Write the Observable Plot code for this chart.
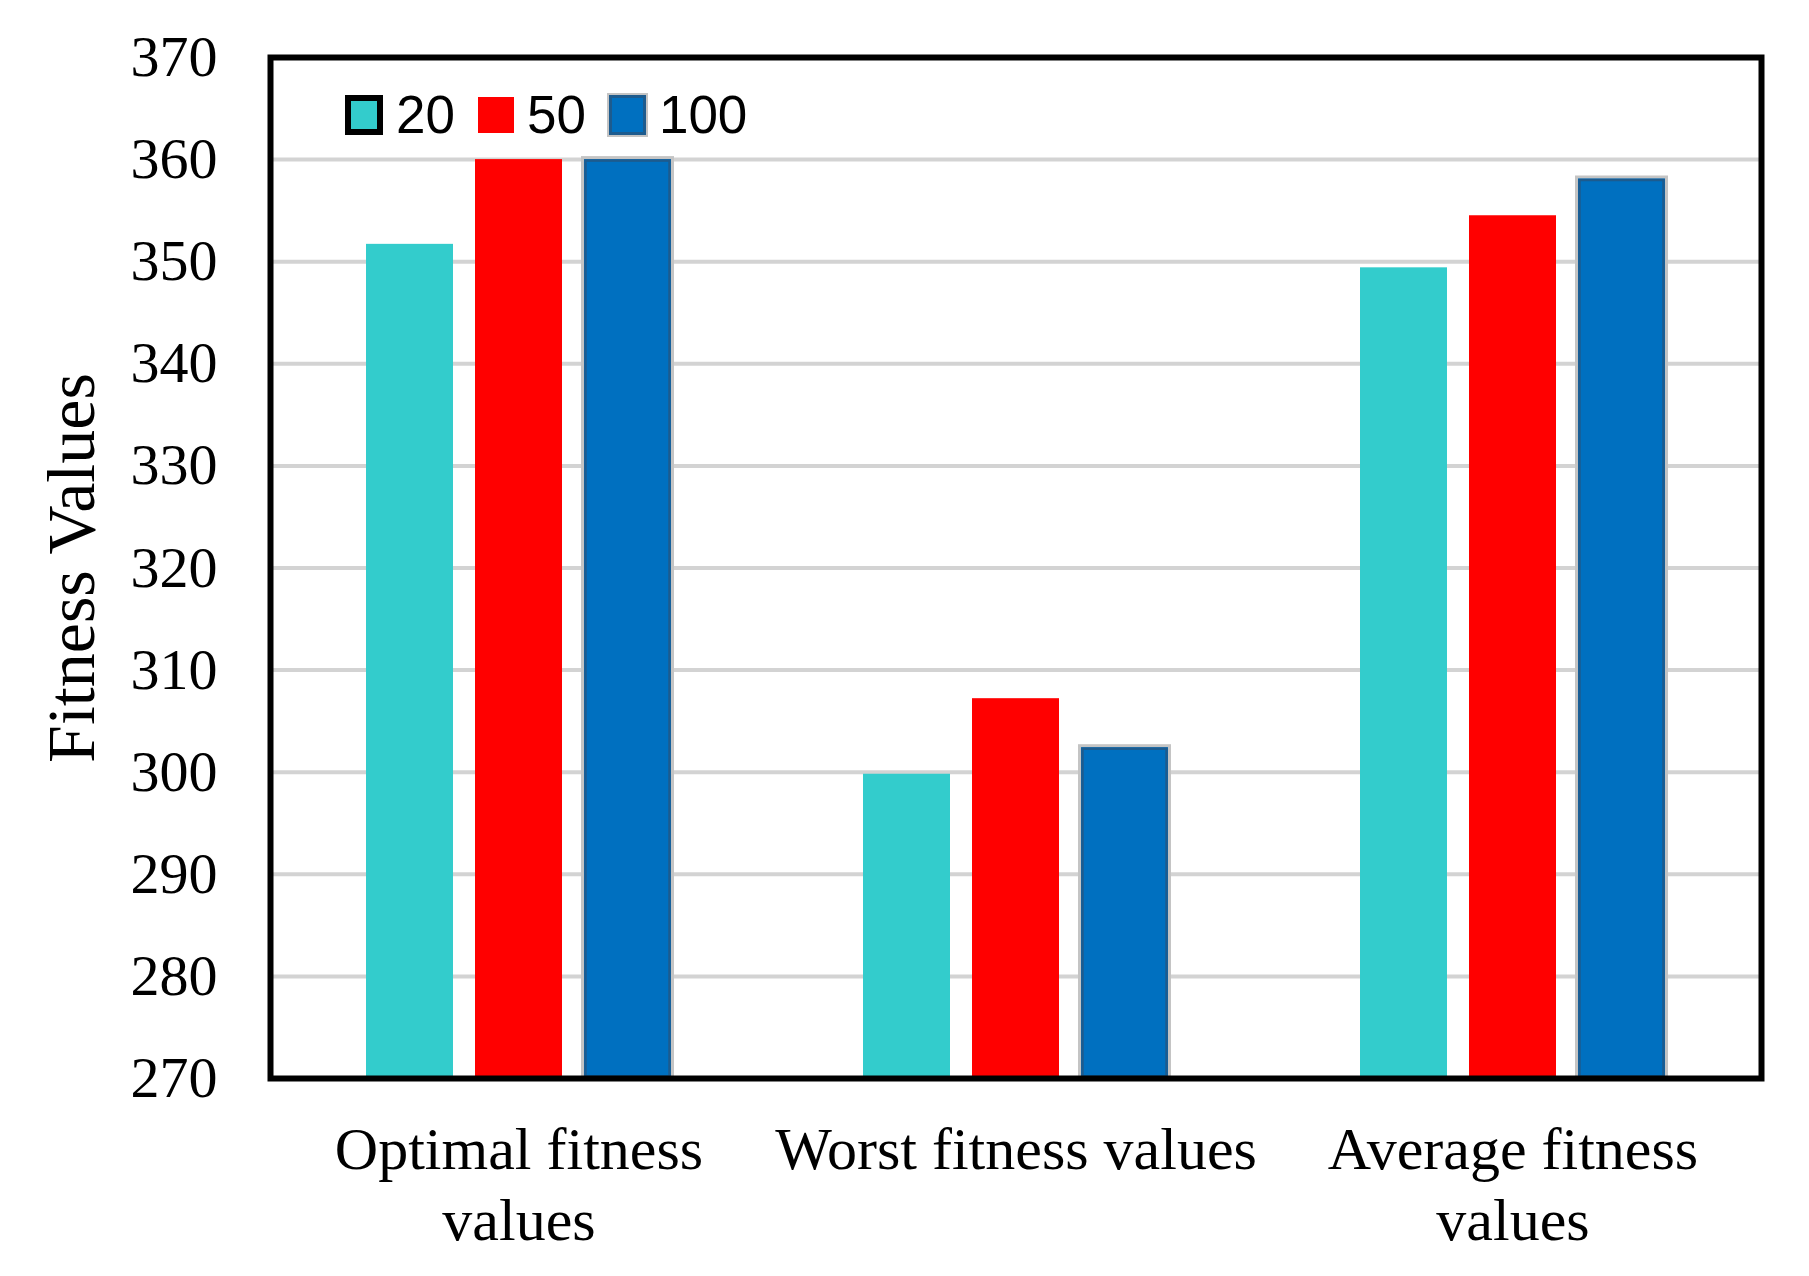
<!DOCTYPE html>
<html>
<head>
<meta charset="utf-8">
<script src="https://cdn.jsdelivr.net/npm/d3@7"></script>
<script src="https://cdn.jsdelivr.net/npm/@observablehq/plot@0.6"></script>
<style>
  html, body { margin: 0; padding: 0; background: #fff; }
  #wrap { position: relative; width: 1809px; height: 1276px; }
  #legend { position: absolute; left: 345px; top: 88px; display: flex; align-items: center;
            font-family: "Liberation Sans", Arial, sans-serif; font-size: 53px; color: #000; line-height: 1; }
  #legend .sw { display: inline-block; box-sizing: border-box; }
  #legend .lab { margin-left: 13px; margin-right: 23px; }
</style>
</head>
<body>
<div id="wrap"><div id="legend"></div></div>
<script>
// ---- data ----
const categories = ["Optimal fitness values", "Worst fitness values", "Average fitness values"];
const categoryLabels = ["Optimal fitness\nvalues", "Worst fitness values", "Average fitness\nvalues"];
const series = ["20", "50", "100"];
const values20 = [351.7, 299.8, 349.4];
const values50 = [360.0, 307.2, 354.5];
const values100 = [360.0, 302.4, 358.1];
const yTicks = [270, 280, 290, 300, 310, 320, 330, 340, 350, 360, 370];
const colors = ["#33CCCC", "#FF0000", "#0070C0"];

const seriesValues = [values20, values50, values100];
const data = [];
categories.forEach((c, i) => series.forEach((s, j) => data.push({category: c, series: s, value: seriesValues[j][i]})));
const yMin = yTicks[0], yMax = yTicks[yTicks.length - 1];
const labelOf = new Map(categories.map((c, i) => [c, categoryLabels[i]]));
const blueData = data.filter(d => d.series === series[2]);

const serif = "'Liberation Serif', 'Times New Roman', serif";

const chart = Plot.plot({
  width: 1809,
  height: 1276,
  marginLeft: 270,
  marginRight: 48,
  marginTop: 57,
  marginBottom: 198,
  style: {fontFamily: serif, background: "#fff"},
  fx: {domain: categories, padding: 0},
  x: {domain: series, paddingInner: 0.2, paddingOuter: 0.86, axis: null},
  y: {domain: [yMin, yMax]},
  color: {domain: series, range: colors},
  marks: [
    Plot.gridY(yTicks.slice(1, -1), {stroke: "#d3d3d3", strokeOpacity: 1, strokeWidth: 4}),
    Plot.barY(blueData, {fx: "category", x: "series", y1: yMin, y2: "value", fill: "none", stroke: "#c4c4c4", strokeWidth: 6}),
    Plot.barY(data, {fx: "category", x: "series", y1: yMin, y2: "value", fill: "series"}),
    Plot.barY(blueData, {fx: "category", x: "series", y1: yMin, y2: "value", fill: "none", stroke: "#1d5b8e", strokeWidth: 2.5, inset: 1.5}),
    Plot.axisY(yTicks, {tickSize: 0, tickPadding: 53, fontSize: 58, fontFamily: serif, fill: "#000", label: null}),
    Plot.axisY({ticks: [], label: "Fitness Values", labelAnchor: "center", labelArrow: "none", labelOffset: 225, fontSize: 68, fontFamily: serif, fill: "#000"}),
    Plot.axisFx({anchor: "bottom", tickSize: 0, tickPadding: 41, fontSize: 60, lineHeight: 1.17, fontFamily: serif, fill: "#000", label: null, tickFormat: d => labelOf.get(d)}),
    Plot.frame({facet: "super", stroke: "#000", strokeWidth: 6})
  ]
});
document.getElementById("wrap").prepend(chart);

// ---- legend (HTML overlay) ----
const legend = document.getElementById("legend");
const swatchStyles = [
  "width:38px;height:40px;background:" + colors[0] + ";border:6px solid #000;",
  "width:36px;height:36px;background:" + colors[1] + ";",
  "width:37px;height:40px;background:" + colors[2] + ";border:3px solid #1d5b8e;box-shadow:0 0 0 2px #c4c4c4;"
];
series.forEach((s, i) => {
  const sw = document.createElement("span");
  sw.className = "sw";
  sw.style.cssText = swatchStyles[i];
  const lab = document.createElement("span");
  lab.className = "lab";
  lab.textContent = s;
  legend.append(sw, lab);
});
</script>
</body>
</html>
